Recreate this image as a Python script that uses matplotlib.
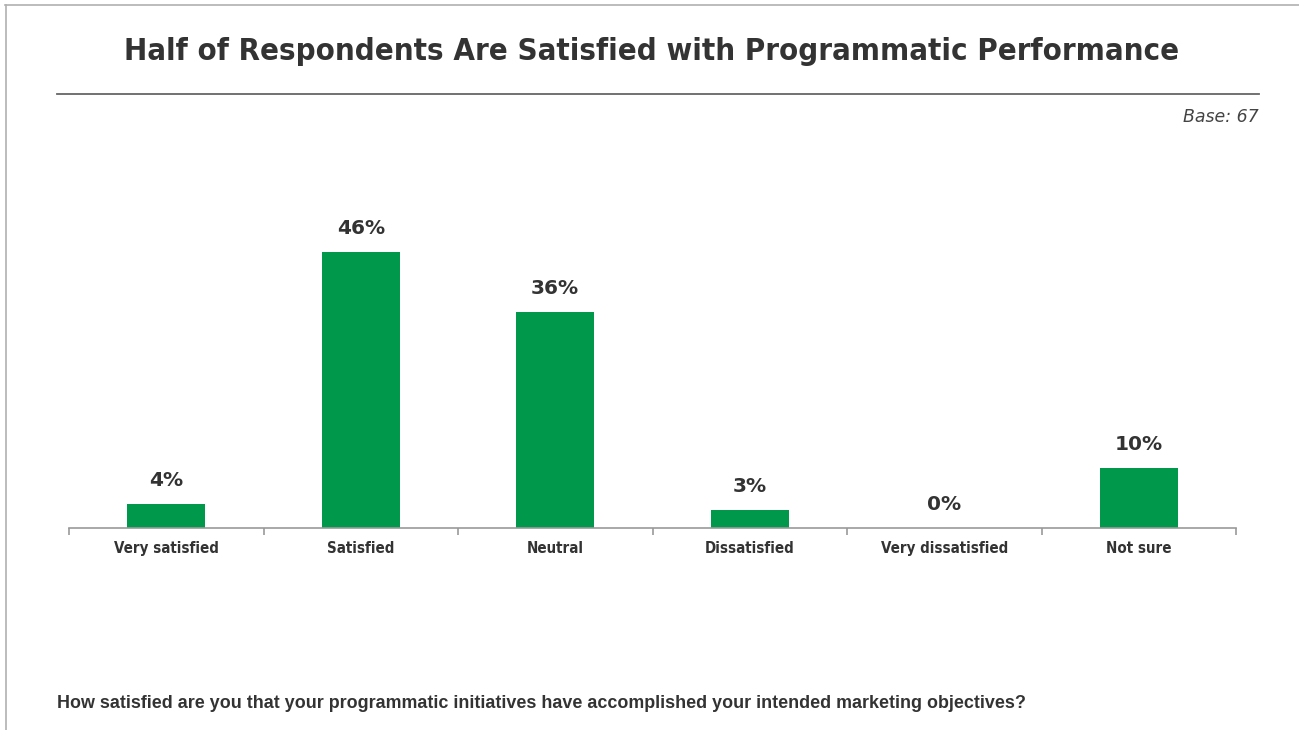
import matplotlib.pyplot as plt
from matplotlib import font_manager
from matplotlib.font_manager import FontProperties
from matplotlib.lines import Line2D

# survey answers and share of respondents (%)
categories = ['Very satisfied', 'Satisfied', 'Neutral', 'Dissatisfied', 'Very dissatisfied', 'Not sure']
shares = [4, 46, 36, 3, 0, 10]

title = 'Half of Respondents Are Satisfied with Programmatic Performance'
question = 'How satisfied are you that your programmatic initiatives have accomplished your intended marketing objectives?'
base_note = 'Base: 67'

# look for a condensed bold face, fall back to Liberation Sans bold
cond_file = None
for f in font_manager.fontManager.ttflist:
    if f.name == 'DejaVu Sans' and 'Condensed' in f.fname and 'Bold' in f.fname and 'Oblique' not in f.fname:
        cond_file = f.fname
        break
for f in font_manager.fontManager.ttflist:
    if cond_file is None and f.name == 'Liberation Sans Narrow' and f.weight == 700 and f.style == 'normal':
        cond_file = f.fname


def cond(size):
    if cond_file:
        return FontProperties(fname=cond_file, size=size)
    return FontProperties(family='Liberation Sans', weight='bold', size=size * 0.93)


green = '#00994c'
dark = '#333333'

fig = plt.figure(figsize=(12.99, 7.30), dpi=100)
W, H = 1299, 730


def fx(px):
    return px / W


def fy(py):
    return 1 - py / H


# frame lines (top and left) and rule under the title
fig.add_artist(Line2D([fx(5), 1], [fy(5), fy(5)], color='#b0b0b0', lw=1.2))
fig.add_artist(Line2D([fx(6), fx(6)], [fy(5), 0], color='#b0b0b0', lw=1.2))
fig.add_artist(Line2D([fx(57), fx(1259)], [fy(94), fy(94)], color='#666666', lw=1.3))

fig.text(fx(652), fy(52), title, ha='center', va='center',
         fontproperties=cond(22.3), color=dark)
fig.text(fx(1259), fy(117), base_note, ha='right', va='center', fontsize=12.5,
         style='italic', color='#444444')
fig.text(fx(57), fy(703), question, ha='left', va='center', fontsize=12.9,
         fontweight='bold', family='Liberation Sans', color=dark)

# axes placed so that 0..50 % spans the plotting area
ax = fig.add_axes([fx(69), fy(528), fx(1236) - fx(69), (528 - 228) / H])
x = range(len(categories))
ax.bar(x, shares, width=0.4, color=green)
ax.set_xlim(-0.5, len(categories) - 0.5)
ax.set_ylim(0, 50)

for xi, v in zip(x, shares):
    ax.text(xi, v + 2.3, f'{v}%', ha='center', va='bottom', fontsize=14.5,
            fontweight='bold', color=dark)

for side in ['top', 'right', 'left']:
    ax.spines[side].set_visible(False)
ax.spines['bottom'].set_color('#999999')
ax.spines['bottom'].set_linewidth(1.2)
ax.set_yticks([])

# category labels centred, ticks on the category boundaries
ax.set_xticks([i - 0.5 for i in range(len(categories) + 1)])
ax.set_xticklabels([])
ax.tick_params(axis='x', length=5, width=1.2, color='#999999', direction='out')
for xi, name in zip(x, categories):
    ax.text(xi, -3.4, name, ha='center', va='center',
            fontproperties=cond(10.8), color=dark)

fig.savefig('out.png', dpi=100)
